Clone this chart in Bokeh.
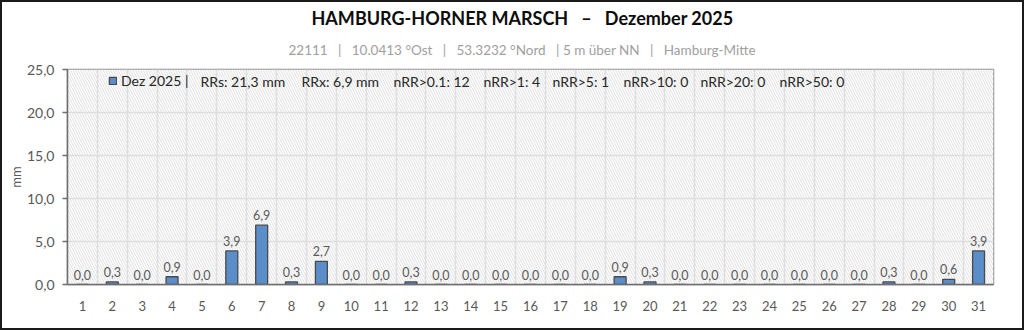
from bokeh.plotting import figure
from bokeh.models import (Range1d, FixedTicker, CustomJSTickFormatter, BoxAnnotation,
                          Label, Legend, LegendItem, ColumnDataSource, Title)
from bokeh.core.properties import value
from bokeh.embed import file_html
from bokeh.resources import INLINE

# ---- data ----
days = list(range(1, 32))
rain = [0.0, 0.3, 0.0, 0.9, 0.0, 3.9, 6.9, 0.3, 2.7, 0.0,
        0.0, 0.3, 0.0, 0.0, 0.0, 0.0, 0.0, 0.0, 0.9, 0.3,
        0.0, 0.0, 0.0, 0.0, 0.0, 0.0, 0.0, 0.3, 0.0, 0.6, 3.9]
y_ticks = [0, 5, 10, 15, 20, 25]
NB = "\u00a0"
title_text = f"HAMBURG-HORNER MARSCH{NB*3}–{NB*3}Dezember 2025"
subtitle_text = (f"22111{NB*3}|{NB*3}10.0413 °Ost{NB*3}|{NB*3}53.3232 °Nord"
                 f"{NB*3}|{NB}5 m über NN{NB*3}|{NB*3}Hamburg-Mitte")
legend_label = "Dez 2025 |"
stats = ["RRs: 21,3 mm", "RRx: 6,9 mm", "nRR>0.1: 12", "nRR>1: 4",
         "nRR>5: 1", "nRR>10: 0", "nRR>20: 0", "nRR>50: 0"]

FONT = "Lato"
BW = 2
W, H = 1024, 330
L, R, T, B = 65, 33, 67, 48
fw = W - L - R
fh = H - T - B
YMAX = 25.0

def px2x(px):
    return 0.5 + (px - BW - L) / fw * 31

def py2y(py):
    return YMAX - (py - BW - T) / fh * YMAX

p = figure(width=W, height=H, output_backend="svg", toolbar_location=None,
           x_range=Range1d(0.5, 31.5), y_range=Range1d(0, YMAX),
           min_border_left=L, min_border_right=R, min_border_top=T, min_border_bottom=B)
p.styles = {"border": f"{BW}px solid #1a1a1a"}

p.background_fill_color = "white"
p.border_fill_color = "white"
p.outline_line_color = "#8c8c8c"
p.outline_line_width = 1.5

# titles (first added = closest to the plot)
p.add_layout(Title(text=subtitle_text, align="left", text_font=FONT,
                   text_font_style="normal", text_font_size="13.5px",
                   text_color="#a0a0a0", offset=221, standoff=22.5), "above")
p.add_layout(Title(text=title_text, align="left", text_font=FONT,
                   text_font_style="bold", text_font_size="18px",
                   text_color="#0d0d0d", offset=244, standoff=0), "above")

# hatch background
hatch = BoxAnnotation(fill_color="white", fill_alpha=1.0, line_alpha=0,
                      hatch_pattern="\\", hatch_color="#e0e0e0", hatch_scale=5,
                      hatch_weight=1, level="image")
p.add_layout(hatch)

# grids
p.xgrid.ticker = FixedTicker(ticks=[d + 0.5 for d in days[:-1]])
p.xgrid.grid_line_color = "#dedede"
p.xgrid.grid_line_width = 1.5
p.ygrid.ticker = FixedTicker(ticks=y_ticks)
p.ygrid.grid_line_color = "#dedede"
p.ygrid.grid_line_width = 1.5

# axes
p.xaxis.ticker = FixedTicker(ticks=days)
p.xaxis.major_tick_line_color = None
p.xaxis.minor_tick_line_color = None
p.xaxis.axis_line_color = "#6e6e6e"
p.xaxis.axis_line_width = 1.5
p.xaxis.major_label_standoff = 10
p.xaxis.major_label_text_font = FONT
p.xaxis.major_label_text_font_size = "13px"
p.xaxis.major_label_text_color = "#595959"

p.yaxis.ticker = FixedTicker(ticks=y_ticks)
p.yaxis.formatter = CustomJSTickFormatter(code="return tick.toFixed(1).replace('.', ',');")
p.yaxis.major_tick_out = 5
p.yaxis.major_tick_in = 0
p.yaxis.minor_tick_line_color = None
p.yaxis.major_tick_line_color = "#6e6e6e"
p.yaxis.major_tick_line_width = 1.5
p.yaxis.axis_line_color = "#6e6e6e"
p.yaxis.axis_line_width = 1.5
p.yaxis.major_label_standoff = 8
p.yaxis.major_label_text_font = FONT
p.yaxis.major_label_text_font_size = "14px"
p.yaxis.major_label_text_color = "#595959"
p.yaxis.axis_label = "mm"
p.yaxis.axis_label_text_font = FONT
p.yaxis.axis_label_text_font_style = "normal"
p.yaxis.axis_label_text_font_size = "13px"
p.yaxis.axis_label_text_color = "#595959"
p.yaxis.axis_label_standoff = 0

# bars
src = ColumnDataSource(dict(x=days, top=rain,
                            lab=[f"{v:.1f}".replace(".", ",") for v in rain]))
bars = p.vbar(x="x", top="top", width=0.4, source=src,
              fill_color="#5b8dc8", line_color="#4a4a4a", line_width=1.3)
p.text(x="x", y="top", text="lab", source=src, text_align="center",
       text_baseline="bottom", y_offset=-5, text_font=value(FONT),
       text_font_size="12.5px", text_color="#595959")

# legend key
leg = Legend(items=[LegendItem(label=legend_label, renderers=[bars])],
             location=(41, fh - 20), glyph_width=9, glyph_height=9,
             label_height=9, label_standoff=4, padding=0, margin=0, spacing=0,
             background_fill_alpha=0, border_line_alpha=0,
             label_text_font=FONT, label_text_font_size="14px",
             label_text_color="#262626")
p.add_layout(leg)

stat_px = [200, 301, 393, 483, 552, 623, 700, 779]
for s, sx in zip(stats, stat_px):
    p.add_layout(Label(x=px2x(sx), y=py2y(81), text=s, text_baseline="middle",
                       text_font=FONT, text_font_size="14px", text_color="#262626"))

open("out.html", "w").write(file_html(p, INLINE))
